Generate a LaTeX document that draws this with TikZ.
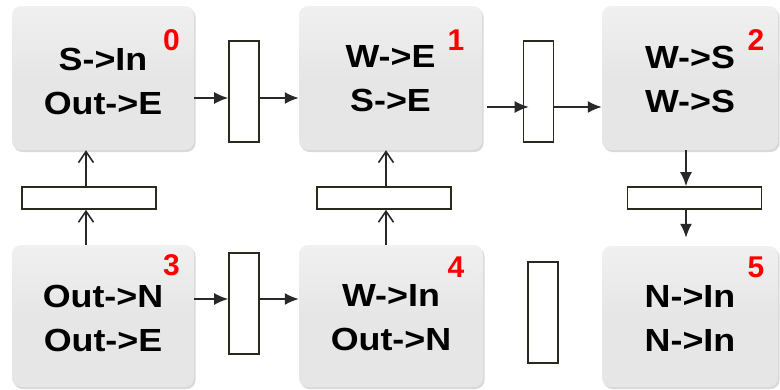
\documentclass[tikz,border=0pt]{standalone}
\usepackage{fontspec}
\newfontfamily\boxfont[FakeStretch=1.12]{Liberation Sans}
\newfontfamily\numfont{Liberation Sans}
\usetikzlibrary{arrows.meta,shadows}
\definecolor{boxgray}{RGB}{230,230,230}
\definecolor{linegray}{RGB}{40,40,40}
\definecolor{rectedge}{RGB}{40,42,30}
\definecolor{numred}{RGB}{255,0,0}
\begin{document}
\begin{tikzpicture}[x=1pt,y=-1pt,
  blk/.style={rounded corners=9pt, top color=boxgray!60, bottom color=boxgray,
    middle color=boxgray, draw=none,
    drop shadow={shadow xshift=1.5pt, shadow yshift=-2pt, opacity=0.3},
    inner sep=0pt},
  txt/.style={inner sep=0pt, align=center,
    font=\boxfont\bfseries\fontsize{32}{44}\selectfont},
  num/.style={inner sep=0pt, anchor=base, text=numred,
    font=\numfont\bfseries\fontsize{30}{30}\selectfont},
  vrect/.style={draw=rectedge, fill=white, line width=1.6pt,
    minimum width=30pt, minimum height=101pt, inner sep=0pt},
  hrect/.style={draw=rectedge, fill=white, line width=1.6pt,
    minimum width=134pt, minimum height=22pt, inner sep=0pt},
  farr/.style={draw=linegray, line width=1.8pt,
    -{Latex[length=14pt,width=12pt]}},
  oarr/.style={draw=linegray, line width=1.6pt,
    -{Straight Barb[length=11pt,width=15pt]}}
]
\useasboundingbox (0,0) rectangle (780,389);

% boxes
\node[blk, minimum width=182pt, minimum height=144pt] (b0) at (103,78) {};
\node[blk, minimum width=183pt, minimum height=144pt] (b1) at (390.5,78) {};
\node[blk, minimum width=176pt, minimum height=144pt] (b2) at (690,78) {};
\node[blk, minimum width=182pt, minimum height=142pt] (b3) at (103,316) {};
\node[blk, minimum width=184pt, minimum height=142pt] (b4) at (391,316) {};
\node[blk, minimum width=176pt, minimum height=141pt] (b5) at (690,316.5) {};

% texts
\node[txt] (t0) at ([yshift=-3pt]b0.center) {S->In\\Out->E};
\node[txt] (t1) at ([yshift=-1pt]b1.center) {W->E\\S->E};
\node[txt] (t2) at ([yshift=-1pt]b2.center) {W->S\\W->S};
\node[txt] (t3) at ([yshift=-2pt]b3.center) {Out->N\\Out->E};
\node[txt] (t4) at ([yshift=-2pt]b4.center) {W->In\\Out->N};
\node[txt] (t5) at ([yshift=-2pt]b5.center) {N->In\\N->In};

% numbers
\node[num] (n0) at (171.5,50) {0};
\node[num] (n1) at (456,50) {1};
\node[num] (n2) at (756,50) {2};
\node[num] (n3) at (171.5,275) {3};
\node[num] (n4) at (456,277) {4};
\node[num] (n5) at (756,277) {5};

% small rectangles
\node[vrect] (r01) at (244,91.5) {};
\node[vrect] (r12) at (538.5,91.5) {};
\node[vrect] (r34) at (244,303.5) {};
\node[vrect] (rs) at (543,312.5) {};
\node[hrect] (h0) at (89,198) {};
\node[hrect] (h1) at (384,198) {};
\node[hrect] (h2) at (694.5,198) {};

% guide coordinates
\coordinate (ya) at (0,98);
\coordinate (yb) at (0,107);
\coordinate (yc) at (0,299);
\coordinate (xa) at (86,0);
\coordinate (xb) at (386,0);
\coordinate (xc) at (686,0);

% horizontal connectors
\draw[farr] (b0.east |- ya) -- (r01.west |- ya);
\draw[farr] (r01.east |- ya) -- (b1.west |- ya);
\draw[farr, shorten >=-6pt] ([xshift=5pt]b1.east |- yb) -- (r12.west |- yb);
\draw[farr] (r12.east |- yb) -- (b2.west |- yb);
\draw[farr] (b3.east |- yc) -- (r34.west |- yc);
\draw[farr] (r34.east |- yc) -- (b4.west |- yc);

% vertical connectors
\draw[oarr] (xa |- b3.north) -- (xa |- h0.south);
\draw[oarr] (xa |- h0.north) -- (xa |- b0.south);
\draw[oarr] (xb |- b4.north) -- (xb |- h1.south);
\draw[oarr] (xb |- h1.north) -- (xb |- b1.south);
\draw[farr] (xc |- b2.south) -- (xc |- h2.north);
\draw[farr, shorten >=8pt] (xc |- h2.south) -- (xc |- b5.north);
\end{tikzpicture}
\end{document}
